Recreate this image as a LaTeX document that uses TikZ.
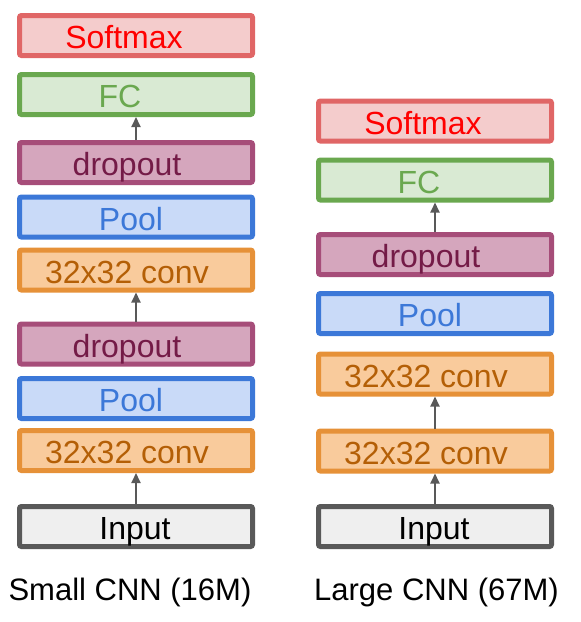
\documentclass[tikz,border=0pt]{standalone}
\usepackage{fontspec}
\setmainfont{Liberation Sans}
\usetikzlibrary{arrows.meta}
\definecolor{smfill}{HTML}{F4CCCC}
\definecolor{smline}{HTML}{E06666}
\definecolor{smtext}{HTML}{FF0000}
\definecolor{fcfill}{HTML}{D9EAD3}
\definecolor{fcline}{HTML}{6AA84F}
\definecolor{dpfill}{HTML}{D5A6BD}
\definecolor{dpline}{HTML}{A64D79}
\definecolor{dptext}{HTML}{741B47}
\definecolor{plfill}{HTML}{C9DAF8}
\definecolor{plline}{HTML}{3C78D8}
\definecolor{cvfill}{HTML}{F9CB9C}
\definecolor{cvline}{HTML}{E69138}
\definecolor{cvtext}{HTML}{B45F06}
\definecolor{infill}{HTML}{EFEFEF}
\definecolor{inline}{HTML}{595959}
\begin{document}
\begin{tikzpicture}[x=1pt,y=-1pt,>={Triangle[length=10pt,width=9pt]},font=\fontsize{32}{38}\selectfont]
	\tikzset{layer/.style={draw,line width=5pt,rounded corners=2pt,minimum width=233pt,
			minimum height=40pt,inner sep=0pt,text height=26pt,text depth=0pt},
		nudge/.style={execute at begin node={\hspace*{-#1}}},
		softmax/.style={layer,fill=smfill,draw=smline,text=smtext,nudge=24pt},
		fc/.style={layer,fill=fcfill,draw=fcline,text=fcline,nudge=32pt},
		drop/.style={layer,fill=dpfill,draw=dpline,text=dptext,nudge=18pt},
		pool/.style={layer,fill=plfill,draw=plline,text=plline,nudge=10pt},
		conv/.style={layer,fill=cvfill,draw=cvline,text=cvtext,nudge=18pt},
		inp/.style={layer,fill=infill,draw=inline,text=black,nudge=2pt},
		caption/.style={anchor=base,font=\fontsize{31}{37}\selectfont},
		link/.style={->,draw=inline,line width=2pt}}
	\useasboundingbox (0,0) rectangle (581,622);
	% small CNN
	\foreach\n/\y/\s/\t in {in/526.5/inp/Input,c1/450.5/conv/32x32 conv,p1/398.5/pool/Pool,
		d1/344/drop/dropout,c2/270/conv/32x32 conv,p2/217/pool/Pool,d2/162.5/drop/dropout,
		fc/94.5/fc/FC,sm/35.5/softmax/Softmax}{
		\node[\s] (s-\n) at (136,\y) {\t};}
	\draw[link] (s-in) -- (s-c1);
	\draw[link] (s-d1) -- (s-c2);
	\draw[link] (s-d2) -- (s-fc);
	\node[caption] (s-cap) at (130,600) {Small CNN (16M)};
	% large CNN
	\foreach\n/\y/\s/\t in {in/526.5/inp/Input,c1/451/conv/32x32 conv,c2/374/conv/32x32 conv,
		p/313.5/pool/Pool,d/254.5/drop/dropout,fc/180/fc/FC,sm/121/softmax/Softmax}{
		\node[\s] (l-\n) at (435,\y) {\t};}
	\draw[link] (l-in) -- (l-c1);
	\draw[link] (l-c1) -- (l-c2);
	\draw[link] (l-d) -- (l-fc);
	\node[caption] (l-cap) at (436.5,600) {Large CNN (67M)};
\end{tikzpicture}
\end{document}
